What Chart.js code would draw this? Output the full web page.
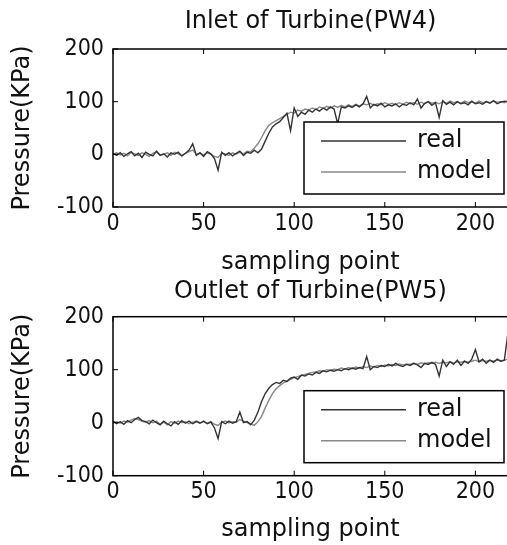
<!DOCTYPE html>
<html>
<head>
<meta charset="utf-8">
<script src="https://cdn.jsdelivr.net/npm/chart.js@4.4.1/dist/chart.umd.min.js"></script>
<style>
  html, body { margin: 0; padding: 0; background: #fff; overflow: hidden; }
  canvas { position: absolute; left: 0; }
  #pw4 { top: 0; }
  #pw5 { top: 278px; }
</style>
</head>
<body>
<canvas id="pw4" width="509" height="278"></canvas>
<canvas id="pw5" width="509" height="267"></canvas>
<script>
// sampling points (every 2nd sample)
const samplePoints = Array.from({ length: 110 }, (_, i) => i * 2);
const xTicks = [0, 50, 100, 150, 200];
const yTicks = [-100, 0, 100, 200];
const seriesNames = ['real', 'model'];

// Inlet of Turbine (PW4)
const pw4Real = [
  2, -2, 3, -4, 1, 5, -3, 2, -6, 4, 0, -3, 6, -2, 1, -5, 3, 0, 4, -3,
  2, 8, 20, -2, 3, -4, 5, 1, -8, -30, 4, -2, 3, -3, 2, 6, -2, 4, 2, 8,
  3, 10, 25, 40, 52, 58, 62, 70, 78, 45, 88, 72, 80, 76, 84, 80, 86, 82, 88, 84,
  90, 86, 58, 90, 88, 92, 89, 94, 90, 96, 110, 88, 95, 92, 97, 90, 94, 92, 96, 90,
  95, 93, 98, 94, 105, 88, 97, 100, 93, 98, 70, 102, 95, 99, 94, 100, 96, 98, 94, 101,
  96, 98, 95, 100, 97, 102, 96, 99, 101, 100
];
const pw4Model = [
  0, 3, -1, 2, -3, 4, 1, -2, 3, 0, -4, 2, 5, -1, 0, 3, -2, 4, 1, -3,
  2, 5, 8, 0, 2, -1, 3, 0, -4, -6, 2, 1, -2, 3, 0, 4, 1, 6, 5, 12,
  20, 32, 45, 55, 60, 64, 68, 72, 76, 80, 78, 84, 82, 86, 84, 88, 85, 90, 87, 91,
  88, 92, 89, 93, 90, 94, 91, 95, 92, 96, 94, 97, 93, 96, 94, 98, 95, 97, 94, 98,
  95, 99, 96, 98, 95, 99, 96, 100, 97, 99, 96, 100, 97, 101, 98, 100, 97, 101, 98, 100,
  97, 101, 98, 100, 98, 101, 99, 100, 98, 101
];

// Outlet of Turbine (PW5)
const pw5Real = [
  3, -2, 2, -3, 4, 0, 6, 10, 4, 2, -2, 5, 0, -4, 3, -2, -6, 2, -3, 4,
  -1, 3, -2, 2, -1, 3, -2, 1, -10, -30, 2, -2, 3, -1, 2, 20, 0, 2, -4, 5,
  20, 40, 55, 65, 72, 76, 74, 80, 78, 84, 86, 82, 90, 88, 92, 90, 95, 93, 98, 96,
  99, 97, 100, 98, 102, 100, 103, 101, 104, 102, 125, 100, 106, 104, 108, 106, 110, 107, 112, 108,
  106, 110, 108, 112, 109, 104, 112, 110, 114, 110, 88, 118, 106, 115, 110, 118, 108, 116, 112, 120,
  138, 115, 120, 112, 118, 114, 120, 116, 118, 170
];
const pw5Model = [
  0, 2, -1, 3, 1, 5, 8, 6, 3, 1, 4, 0, 3, -3, 1, -4, 2, -1, 3, 0,
  2, -2, 1, 3, 0, 2, -1, 2, -3, -5, 1, 3, 0, 2, 1, 6, 3, 0, -2, -5,
  2, 12, 28, 42, 55, 64, 70, 75, 78, 82, 85, 87, 89, 91, 93, 95, 96, 98, 97, 100,
  99, 101, 100, 103, 101, 104, 102, 105, 103, 106, 104, 107, 105, 108, 106, 109, 107, 110, 108, 111,
  109, 111, 110, 112, 110, 113, 111, 113, 112, 114, 112, 114, 113, 115, 113, 115, 114, 116, 114, 116,
  118, 115, 117, 116, 118, 116, 118, 117, 118, 120
];

const tickFont = { family: 'DejaVu Sans Condensed', size: 23 };
const labelFont = { family: 'DejaVu Sans', size: 24 };

// box, inward ticks, title and legend drawn like the Matlab figure
const matlabFrame = {
    id: 'matlabFrame',
    afterDraw(chart, args, opts) {
        const { ctx, chartArea: a, scales } = chart;
        ctx.save();
        ctx.strokeStyle = '#000';
        ctx.lineWidth = 1.5;
        ctx.strokeRect(a.left, a.top, a.right - a.left, a.bottom - a.top);

        ctx.lineWidth = 1;
        ctx.beginPath();
        scales.x.ticks.forEach(t => {
            const px = scales.x.getPixelForValue(t.value);
            ctx.moveTo(px, a.bottom); ctx.lineTo(px, a.bottom - 5);
            ctx.moveTo(px, a.top); ctx.lineTo(px, a.top + 5);
        });
        scales.y.ticks.forEach(t => {
            const py = scales.y.getPixelForValue(t.value);
            ctx.moveTo(a.left, py); ctx.lineTo(a.left + 5, py);
        });
        ctx.stroke();

        // title over the plot
        ctx.fillStyle = '#111';
        ctx.font = `${labelFont.size}px ${labelFont.family}`;
        ctx.textAlign = 'center';
        ctx.textBaseline = 'middle';
        ctx.fillText(opts.title, (a.left + a.right) / 2, opts.titleY);

        // legend box
        const w = 200, h = 72;
        const bx = a.right - 4 - w, by = a.bottom - 13 - h;
        ctx.fillStyle = '#fff';
        ctx.fillRect(bx, by, w, h);
        ctx.lineWidth = 1.5;
        ctx.strokeStyle = '#000';
        ctx.strokeRect(bx, by, w, h);
        ctx.textAlign = 'left';
        chart.data.datasets.forEach((ds, i) => {
            const ly = by + 19 + i * 31;
            ctx.strokeStyle = ds.borderColor;
            ctx.lineWidth = 1.4;
            ctx.beginPath();
            ctx.moveTo(bx + 17, ly); ctx.lineTo(bx + 102, ly);
            ctx.stroke();
            ctx.fillStyle = '#111';
            ctx.fillText(ds.label, bx + 113, ly);
        });
        ctx.restore();
    }
};

function makeChart(id, title, titleY, topPad, xAxisHeight, real, model) {
    return new Chart(document.getElementById(id), {
        type: 'line',
        data: {
            labels: samplePoints,
            datasets: [
                { label: seriesNames[0], data: real, borderColor: '#333', borderWidth: 1.4 },
                { label: seriesNames[1], data: model, borderColor: '#888', borderWidth: 1.4 },
            ],
        },
        plugins: [matlabFrame],
        options: {
            responsive: false,
            animation: false,
            devicePixelRatio: 1,
            layout: { padding: { top: topPad, right: 1, left: 0, bottom: 0 } },
            elements: { point: { radius: 0 }, line: { tension: 0 } },
            plugins: {
                legend: { display: false },
                tooltip: { enabled: false },
                matlabFrame: { title: title, titleY: titleY },
            },
            scales: {
                x: {
                    type: 'linear',
                    min: 0,
                    max: 218,
                    afterBuildTicks: s => { s.ticks = xTicks.map(v => ({ value: v })); },
                    afterFit: s => { s.height = xAxisHeight; },
                    grid: { display: false, drawTicks: false },
                    border: { display: false },
                    ticks: { font: tickFont, color: '#111', padding: 3, maxRotation: 0 },
                    title: { display: true, text: 'sampling point', font: labelFont, color: '#111', padding: { top: 0, bottom: 1 } },
                },
                y: {
                    min: -100,
                    max: 200,
                    afterBuildTicks: s => { s.ticks = yTicks.map(v => ({ value: v })); },
                    afterFit: s => { s.width = 113; },
                    grid: { display: false, drawTicks: false },
                    border: { display: false },
                    ticks: { font: tickFont, color: '#111', padding: 9 },
                    title: { display: true, text: 'Pressure(KPa)', font: labelFont, color: '#111', padding: { top: 8, bottom: 0 } },
                },
            },
        },
    });
}

makeChart('pw4', 'Inlet of Turbine(PW4)', 22, 49, 71, pw4Real, pw4Model);
makeChart('pw5', 'Outlet of Turbine(PW5)', 14, 38.7, 69.3, pw5Real, pw5Model);
</script>
</body>
</html>
